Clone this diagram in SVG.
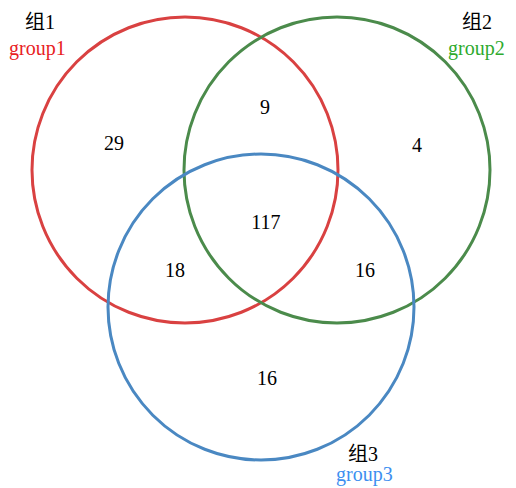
<svg xmlns="http://www.w3.org/2000/svg" width="516" height="488" viewBox="0 0 516 488">
<style>
.c{fill:none;stroke-width:3}
text{font-family:"Liberation Serif","Noto Sans CJK SC",serif;font-size:20px}
.n{text-anchor:middle;fill:#000}
</style>
<rect width="516" height="488" fill="#fff"/>
<g id="connectors"></g>
<g id="group1"><circle class="c" cx="185" cy="170" r="153" stroke="#d94141"/></g>
<g id="group2"><circle class="c" cx="337" cy="170" r="153" stroke="#4b8b4b"/></g>
<g id="group3"><circle class="c" cx="261" cy="307" r="153" stroke="#4a88c2"/></g>
<g id="labels">
<text x="25" y="29" fill="#000">组1</text>
<text x="9" y="55" fill="#e8211f">group1</text>
<text x="462" y="29" fill="#000">组2</text>
<text x="448" y="55" fill="#2eaa2e">group2</text>
<text x="348" y="461" fill="#000">组3</text>
<text x="336" y="481" fill="#3d8ff0">group3</text>
</g>
<g id="counts">
<text class="n" x="114" y="150">29</text>
<text class="n" x="265" y="114">9</text>
<text class="n" x="417" y="152">4</text>
<text class="n" x="266" y="229">117</text>
<text class="n" x="175" y="277">18</text>
<text class="n" x="365" y="277">16</text>
<text class="n" x="267" y="385">16</text>
</g>
</svg>
